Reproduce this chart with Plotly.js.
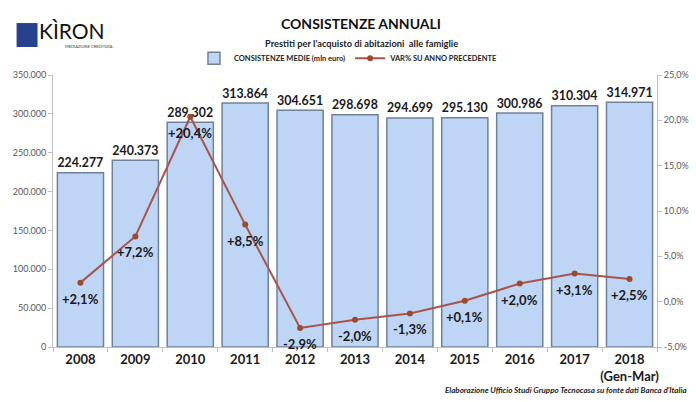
<!DOCTYPE html>
<html><head><meta charset="utf-8">
<script src="https://cdn.plot.ly/plotly-3.0.1.min.js"></script>
<style>html,body{margin:0;padding:0;background:#fff}#chart{width:696px;height:402px}</style>
</head><body><div id="chart"></div>
<script>
const years = ['2008','2009','2010','2011','2012','2013','2014','2015','2016','2017','2018<br>(Gen-Mar)'];
const consistenze = [224277, 240373, 289302, 313864, 304651, 298698, 294699, 295130, 300986, 310304, 314971];
const variazioni = [2.1, 7.2, 20.4, 8.5, -2.9, -2.0, -1.3, 0.1, 2.0, 3.1, 2.5];
const leftTicks = [0, 50000, 100000, 150000, 200000, 250000, 300000, 350000];
const rightTicks = [-5, 0, 5, 10, 15, 20, 25];

const FONT = 'Lato, "Open Sans", sans-serif';
const fmtPct = (v, sign) => (v < 0 ? '-' : (sign && v >= 0 ? '+' : '')) + Math.abs(v).toFixed(1).replace('.', ',') + '%';
const varText = variazioni.map(v => fmtPct(v, true));
const rightTickText = rightTicks.map(v => fmtPct(v, false));

const traces = [
  {
    type: 'bar', name: 'CONSISTENZE MEDIE (mln euro)',
    x: years, y: consistenze,
    marker: {color: '#bed5f5', line: {color: '#6f8299', width: 1.5}},
    texttemplate: '%{y:,d}', textposition: 'outside', cliponaxis: false,
    textfont: {family: FONT, size: 15, color: '#1a1a1a', weight: 'bold'},
    width: 0.84, hoverinfo: 'skip'
  },
  {
    type: 'scatter', mode: 'lines+markers', name: 'VAR% SU ANNO PRECEDENTE',
    x: years, y: variazioni, yaxis: 'y2',
    line: {color: '#a8544c', width: 2},
    marker: {color: '#9c4a2c', size: 6},
    cliponaxis: false, hoverinfo: 'skip'
  }
];

// category index positions for the line labels
const lineLabels = years.map((yr, i) => ({
  text: varText[i], xref: 'x', yref: 'y2', x: i, y: variazioni[i], yshift: -16,
  showarrow: false, font: {family: FONT, size: 13, color: '#1a1a1a', weight: 'bold'}
}));

const layout = {
  width: 696, height: 402,
  margin: {l: 52.5, r: 38.5, t: 75, b: 55},
  paper_bgcolor: '#fff', plot_bgcolor: '#fff',
  separators: ',.',
  font: {family: FONT},
  showlegend: true,
  legend: {orientation: 'h', x: 0.49, xanchor: 'center', y: 1.062, yanchor: 'middle',
    font: {family: FONT, size: 7.5, color: '#222', weight: 'bold'}, itemwidth: 30, traceorder: 'normal'},
  bargap: 0.16,
  xaxis: {
    type: 'category', range: [-0.5, years.length - 0.5], autorange: false,
    showline: true, linecolor: '#bfbfbf', linewidth: 1,
    ticks: 'outside', tickson: 'boundaries', ticklen: 4, tickcolor: '#bfbfbf', tickangle: 0,
    tickfont: {family: FONT, size: 13, color: '#1a1a1a', weight: 'bold'},
    showgrid: false, fixedrange: true
  },
  yaxis: {
    range: [0, 350000], tickvals: leftTicks, tickformat: ',d',
    showline: true, linecolor: '#bfbfbf', ticks: 'outside', ticklen: 4, tickcolor: '#bfbfbf',
    tickfont: {family: FONT, size: 9, color: '#595959'}, showgrid: false, zeroline: false
  },
  yaxis2: {
    overlaying: 'y', side: 'right', range: [-5, 25], tickvals: rightTicks, ticktext: rightTickText,
    showline: true, linecolor: '#bfbfbf', ticks: 'outside', ticklen: 4, tickcolor: '#bfbfbf',
    tickfont: {family: FONT, size: 9, color: '#595959'}, showgrid: false, zeroline: false
  },
  shapes: [
    {type: 'rect', xref: 'paper', yref: 'paper', x0: -0.0603, x1: -0.0256, y0: 1.103, y1: 1.191,
     fillcolor: '#28418c', line: {width: 0}}
  ],
  annotations: [
    {text: 'CONSISTENZE ANNUALI', xref: 'paper', yref: 'paper', x: 0.51, y: 1.191, yanchor: 'middle',
     showarrow: false, font: {family: FONT, size: 14, color: '#111', weight: 'bold'}},
    {text: "Prestiti per l'acquisto di abitazioni  alle famiglie", xref: 'paper', yref: 'paper', x: 0.51, y: 1.114,
     yanchor: 'middle', showarrow: false, font: {family: FONT, size: 9.3, color: '#222', weight: 'bold'}},
    {text: 'KÌRON', xref: 'paper', yref: 'paper', x: -0.026, y: 1.165, xanchor: 'left', yanchor: 'middle',
     showarrow: false, font: {family: FONT, size: 21, color: '#111'}},
    {text: 'MEDIAZIONE CREDITIZIA', xref: 'paper', yref: 'paper', x: 0.017, y: 1.103, xanchor: 'left', yanchor: 'middle',
     showarrow: false, font: {family: FONT, size: 4, color: '#333'}},
    {text: "Elaborazione Ufficio Studi Gruppo Tecnocasa su fonte dati Banca d'Italia", xref: 'paper', yref: 'paper',
     x: 1.0537, y: -0.158, xanchor: 'right', yanchor: 'middle', showarrow: false,
     font: {family: FONT, size: 8, color: '#222', weight: 'bold', style: 'italic'}}
  ].concat(lineLabels)
};

Plotly.newPlot('chart', traces, layout, {staticPlot: true, displayModeBar: false});
</script></body></html>
